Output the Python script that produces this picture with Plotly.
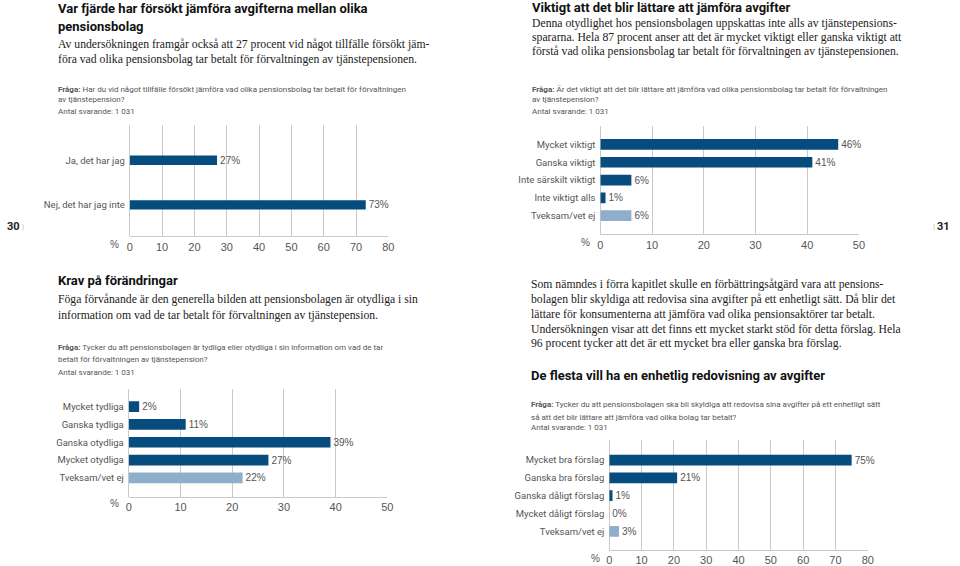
import plotly.graph_objects as go

W, H = 960, 566

# ---------------- data ----------------
cats1 = ["Ja, det har jag", "Nej, det har jag inte"]
vals1 = [27, 73]

cats2 = ["Mycket viktigt", "Ganska viktigt", "Inte särskilt viktigt", "Inte viktigt alls", "Tveksam/vet ej"]
vals2 = [46, 41, 6, 1, 6]

cats3 = ["Mycket tydliga", "Ganska tydliga", "Ganska otydliga", "Mycket otydliga", "Tveksam/vet ej"]
vals3 = [2, 11, 39, 27, 22]

cats4 = ["Mycket bra förslag", "Ganska bra förslag", "Ganska dåligt förslag", "Mycket dåligt förslag", "Tveksam/vet ej"]
vals4 = [75, 21, 1, 0, 3]

DARK = "#064c7e"
LIGHT = "#8eaecb"
GRID = "#c9c9c9"
GREY = "#555555"

SANS = "Roboto, Liberation Sans, sans-serif"
TICKF = "Liberation Sans, Arial, sans-serif"
SERIF = "Liberation Serif, DejaVu Serif, serif"

fig = go.Figure()

def colors_for(cats):
    return [LIGHT if c.startswith("Tveksam") else DARK for c in cats]

charts = [
    # cats, vals, axis id, x px domain, y px domain, xmax, yrange, bar width
    (cats1, vals1, 1, (128, 389), (126, 239), 80, [1.711, -0.8], 0.21),
    (cats2, vals2, 2, (603, 864), (127, 237), 50, [5.056, -1.056], 0.6),
    (cats3, vals3, 3, (127, 388), (393, 502), 50, [5.056, -1.0], 0.6),
    (cats4, vals4, 4, (612, 873), (445, 556), 80, [5.056, -1.11], 0.6),
]

for cats, vals, i, (x0, x1), (y0, y1), xmax, yr, bw in charts:
    sfx = "" if i == 1 else str(i)
    fig.add_trace(go.Bar(
        x=vals, y=cats, orientation="h",
        marker=dict(color=colors_for(cats), line=dict(width=0)),
        width=bw,
        text=[f"{v}%" for v in vals], textposition="outside",
        constraintext="none",
        textfont=dict(size=10, color=GREY, family=TICKF),
        cliponaxis=False,
        xaxis="x" + sfx, yaxis="y" + sfx, showlegend=False,
    ))
    fig.layout["xaxis" + sfx] = dict(
        domain=[x0 / W, x1 / W], range=[0, xmax], dtick=10, tick0=0,
        showgrid=True, gridcolor=GRID, gridwidth=1,
        zeroline=True, zerolinecolor=GRID, zerolinewidth=1,
        showline=True, linecolor=GRID, linewidth=1,
        ticks="", tickfont=dict(size=11, color=GREY, family=TICKF),
        anchor="y" + sfx, fixedrange=True,
    )
    fig.layout["yaxis" + sfx] = dict(
        domain=[1 - y1 / H, 1 - y0 / H], range=yr, type="category",
        showgrid=False, zeroline=False, showline=False, ticks="",
        ticklabelstandoff=4,
        tickfont=dict(size=9.5, color=GREY, family=SANS),
        anchor="x" + sfx, fixedrange=True,
    )

annots = []

def txt(x, y, s, size, color, family, xanchor="left"):
    annots.append(dict(x=x / W, y=1 - y / H, xref="paper", yref="paper",
                       text=s, showarrow=False, xanchor=xanchor, yanchor="middle",
                       font=dict(size=size, color=color, family=family)))

# percent signs
for x, y in [(113, 247), (588, 245), (113, 509), (598, 564)]:
    txt(x, y, "%", 10, GREY, TICKF, xanchor="center")

# page numbers
txt(2, 229, "<b>30</b>", 11, "#222", SANS)
txt(17, 229, "|", 8, "#bbbbbb", SANS)
txt(958, 229, "<b>31</b>", 11, "#222", SANS, xanchor="right")
txt(943, 229, "|", 8, "#bbbbbb", SANS, xanchor="right")

TITLE_C = "#111111"
BODY_C = "#222222"
TS = 13
BS = 11.7
QS = 8

# Top-left
txt(53, 9, "<b>Var fjärde har försökt jämföra avgifterna mellan olika</b>", TS, TITLE_C, SANS)
txt(53, 27, "<b>pensionsbolag</b>", TS, TITLE_C, SANS)
txt(53, 45, "Av undersökningen framgår också att 27 procent vid något tillfälle försökt jäm-", BS, BODY_C, SERIF)
txt(53, 60, "föra vad olika pensionsbolag tar betalt för förvaltningen av tjänstepensionen.", BS, BODY_C, SERIF)
txt(53, 90, "<b>Fråga:</b> Har du vid något tillfälle försökt jämföra vad olika pensionsbolag tar betalt för förvaltningen", QS, GREY, SANS)
txt(53, 101, "av tjänstepension?", QS, GREY, SANS)
txt(53, 113, "Antal svarande: 1 031", QS, GREY, SANS)

# Top-right
txt(532, 8, "<b>Viktigt att det blir lättare att jämföra avgifter</b>", TS, TITLE_C, SANS)
txt(532, 24, "Denna otydlighet hos pensionsbolagen uppskattas inte alls av tjänstepensions-", BS, BODY_C, SERIF)
txt(532, 38, "spararna. Hela 87 procent anser att det är mycket viktigt eller ganska viktigt att", BS, BODY_C, SERIF)
txt(532, 52, "förstå vad olika pensionsbolag tar betalt för förvaltningen av tjänstepensionen.", BS, BODY_C, SERIF)
txt(532, 90, "<b>Fråga:</b> Är det viktigt att det blir lättare att jämföra vad olika pensionsbolag tar betalt för förvaltningen", QS, GREY, SANS)
txt(532, 101, "av tjänstepension?", QS, GREY, SANS)
txt(532, 113, "Antal svarande: 1 031", QS, GREY, SANS)

# Bottom-left
txt(53, 284, "<b>Krav på förändringar</b>", TS, TITLE_C, SANS)
txt(53, 303, "Föga förvånande är den generella bilden att pensionsbolagen är otydliga i sin", BS, BODY_C, SERIF)
txt(53, 319, "information om vad de tar betalt för förvaltningen av tjänstepension.", BS, BODY_C, SERIF)
txt(53, 351, "<b>Fråga:</b> Tycker du att pensionsbolagen är tydliga eller otydliga i sin information om vad de tar", QS, GREY, SANS)
txt(53, 363, "betalt för förvaltningen av tjänstepension?", QS, GREY, SANS)
txt(53, 376, "Antal svarande: 1 031", QS, GREY, SANS)

# Bottom-right
txt(531, 288, "Som nämndes i förra kapitlet skulle en förbättringsåtgärd vara att pensions-", BS, BODY_C, SERIF)
txt(531, 303, "bolagen blir skyldiga att redovisa sina avgifter på ett enhetligt sätt. Då blir det", BS, BODY_C, SERIF)
txt(531, 318, "lättare för konsumenterna att jämföra vad olika pensionsaktörer tar betalt.", BS, BODY_C, SERIF)
txt(531, 333, "Undersökningen visar att det finns ett mycket starkt stöd för detta förslag. Hela", BS, BODY_C, SERIF)
txt(531, 347, "96 procent tycker att det är ett mycket bra eller ganska bra förslag.", BS, BODY_C, SERIF)
txt(531, 380, "<b>De flesta vill ha en enhetlig redovisning av avgifter</b>", TS, TITLE_C, SANS)
txt(531, 409, "<b>Fråga:</b> Tycker du att pensionsbolagen ska bli skyldiga att redovisa sina avgifter på ett enhetligt sätt", QS, GREY, SANS)
txt(531, 422, "så att det blir lättare att jämföra vad olika bolag tar betalt?", QS, GREY, SANS)
txt(531, 432, "Antal svarande: 1 031", QS, GREY, SANS)

fig.update_layout(
    width=W, height=H, margin=dict(l=0, r=0, t=0, b=0),
    paper_bgcolor="white", plot_bgcolor="white",
    annotations=annots, bargap=0.3,
    font=dict(family=SANS, color=GREY),
)

fig.write_html("out.html")
